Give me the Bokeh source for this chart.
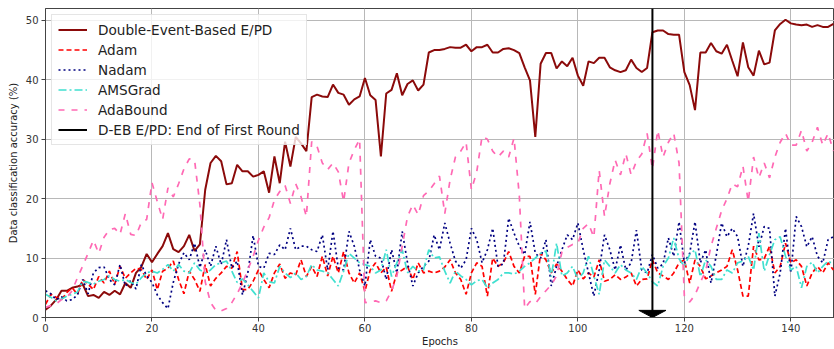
from bokeh.plotting import figure
from bokeh.models import Range1d, Legend, LegendItem
from bokeh.embed import file_html
from bokeh.resources import INLINE

# ---------------- data ----------------
epochs = list(range(149))

deb_epd = [
    1.3, 2.0, 3.0, 4.5, 4.5, 5.0, 5.2, 5.6, 3.6, 3.8,
    3.3, 4.3, 3.8, 4.5, 3.9, 5.8, 5.0, 7.5, 8.5, 10.7,
    9.3, 10.7, 12.0, 14.2, 11.5, 11.0, 12.0, 13.9, 11.2, 12.3,
    21.5, 26.0, 27.2, 26.3, 22.4, 22.6, 25.7, 24.6, 24.6, 23.7,
    24.0, 24.6, 21.0, 27.1, 22.6, 29.6, 25.4, 30.4, 29.3, 28.0,
    37.1, 37.5, 37.2, 37.1, 39.2, 37.8, 37.5, 35.8, 36.7, 37.2,
    40.3, 37.4, 36.6, 27.1, 37.7, 38.3, 41.1, 37.4, 39.3, 39.9,
    38.2, 39.2, 44.6, 45.0, 45.0, 45.2, 45.5, 45.4, 45.4, 45.9,
    44.8, 45.5, 45.5, 45.9, 44.6, 44.6, 45.2, 45.3, 45.0, 44.5,
    42.1, 39.9, 30.4, 42.7, 44.5, 44.5, 41.9, 43.1, 42.3, 43.7,
    40.7, 39.0, 43.1, 42.8, 43.7, 43.7, 42.1, 41.6, 41.3, 41.6,
    43.4, 42.0, 41.3, 42.0, 48.0, 48.3, 48.3, 47.7, 47.6, 47.6,
    41.3, 39.1, 34.9, 44.6, 44.6, 46.2, 44.8, 44.4, 45.9, 43.2,
    40.6, 46.3, 42.1, 40.7, 44.9, 42.6, 42.9, 48.3, 49.4, 50.1,
    49.5, 49.3, 49.2, 49.3, 48.9, 49.2, 48.9, 48.9, 49.4,
]

adam = [
    2.2, 3.9, 3.4, 3.0, 4.2, 5.0, 3.9, 6.4, 5.6, 4.7,
    6.9, 5.8, 7.8, 5.6, 8.6, 6.6, 7.5, 8.3, 8.1, 6.4,
    8.0, 4.7, 7.8, 8.3, 9.5, 6.4, 4.0, 7.8, 6.4, 4.4,
    8.9, 5.3, 6.6, 7.5, 8.6, 8.3, 11.1, 4.7, 4.7, 6.1,
    8.0, 6.4, 5.0, 7.5, 9.0, 6.6, 7.5, 7.2, 9.7, 6.9,
    8.6, 6.9, 10.3, 7.0, 10.3, 7.5, 11.1, 7.5, 5.8, 7.5,
    4.4, 8.0, 9.2, 7.5, 8.5, 4.4, 7.5, 8.0, 8.6, 6.4,
    9.2, 7.5, 7.8, 7.5, 7.8, 8.5, 9.7, 7.5, 6.4, 3.9,
    7.5, 9.2, 8.6, 3.6, 10.0, 8.6, 9.2, 11.1, 8.6, 7.5,
    10.3, 10.3, 3.9, 10.8, 9.7, 7.5, 9.0, 7.8, 6.4, 5.3,
    8.0, 6.5, 7.5, 6.8, 9.7, 6.1, 6.4, 7.2, 6.4, 6.8,
    7.5, 5.3, 6.4, 6.5, 9.7, 7.5, 7.0, 6.4, 7.5, 9.2,
    9.7, 5.8, 9.7, 8.6, 6.5, 7.0, 7.5, 8.0, 8.6, 11.4,
    8.0, 3.6, 3.6, 12.0, 9.7, 9.9, 12.0, 7.5, 8.6, 12.5,
    9.2, 9.7, 8.6, 5.3, 7.5, 8.6, 7.5, 9.2, 8.0,
]

nadam = [
    4.5, 4.0, 3.0, 3.5, 2.8, 3.0, 3.8, 6.4, 4.0, 7.5,
    8.4, 8.5, 6.4, 5.5, 8.9, 5.3, 6.2, 4.8, 8.9, 7.0,
    5.9, 3.8, 2.5, 1.5, 5.9, 9.0, 10.9, 9.7, 12.5, 8.4,
    11.4, 8.6, 12.0, 8.9, 13.1, 8.3, 9.5, 3.8, 7.5, 13.8,
    8.6, 8.3, 10.8, 10.6, 12.2, 11.4, 15.0, 11.4, 12.0, 12.0,
    11.4, 11.1, 13.9, 8.0, 14.5, 8.3, 8.0, 14.5, 12.0, 8.0,
    5.3, 13.1, 10.3, 10.0, 6.4, 11.4, 7.5, 14.5, 9.2, 5.3,
    7.5, 8.6, 9.5, 13.9, 11.4, 15.9, 12.5, 9.5, 8.3, 9.7,
    15.0, 13.1, 9.2, 11.4, 15.0, 8.6, 9.0, 16.7, 14.2, 12.0,
    10.6, 16.1, 10.8, 10.0, 13.1, 5.3, 8.6, 11.4, 13.9, 13.1,
    15.9, 11.4, 7.5, 3.6, 8.0, 13.9, 11.4, 8.0, 12.2, 8.0,
    9.2, 14.7, 8.0, 7.5, 10.6, 8.3, 9.0, 13.4, 10.3, 16.1,
    9.2, 10.8, 16.1, 9.2, 11.4, 5.8, 10.5, 15.9, 13.6, 15.0,
    13.6, 8.6, 12.0, 17.5, 11.9, 15.3, 15.0, 3.6, 7.5, 15.0,
    7.5, 17.0, 15.3, 11.9, 13.6, 10.3, 9.2, 13.1, 13.6,
]

amsgrad = [
    3.9, 3.4, 2.8, 3.1, 3.6, 3.9, 4.3, 6.1, 5.9, 5.6,
    6.1, 6.4, 7.0, 6.4, 6.1, 6.4, 5.9, 5.6, 6.7, 7.5,
    7.8, 7.5, 8.1, 8.9, 7.8, 8.9, 7.8, 7.5, 9.2, 8.0,
    7.5, 8.0, 8.9, 9.2, 9.5, 7.8, 5.9, 6.5, 5.5, 4.4,
    3.3, 7.5, 6.0, 5.8, 8.6, 7.5, 6.7, 7.5, 6.4, 6.9,
    8.9, 8.0, 7.8, 7.5, 6.4, 5.3, 7.8, 10.8, 10.0, 9.2,
    8.9, 8.6, 7.5, 8.0, 11.4, 6.9, 9.2, 11.4, 7.5, 8.6,
    7.8, 8.0, 11.4, 10.0, 10.2, 7.8, 5.8, 7.8, 7.0, 6.4,
    5.5, 6.2, 6.4, 5.0, 5.8, 6.4, 7.5, 7.5, 7.3, 7.8,
    8.6, 9.2, 10.0, 10.8, 11.2, 6.9, 12.5, 7.0, 7.5, 8.6,
    6.4, 7.5, 10.3, 7.0, 3.9, 9.7, 8.6, 7.5, 8.9, 8.0,
    7.5, 6.4, 8.6, 7.5, 6.0, 5.3, 8.6, 10.0, 13.4, 9.9,
    8.6, 10.6, 11.4, 6.9, 9.7, 8.6, 6.4, 6.4, 8.0, 7.5,
    9.2, 9.5, 10.3, 8.0, 14.2, 7.8, 10.6, 13.1, 13.6, 10.3,
    8.0, 8.6, 5.0, 8.6, 9.3, 7.5, 8.6, 9.5, 9.0,
]

adabound = [
    1.7, 2.0, 2.3, 3.0, 3.4, 4.5, 6.7, 8.7, 10.8, 13.0,
    10.8, 13.5, 14.8, 15.0, 14.0, 17.5, 14.0, 13.8, 16.0, 16.5,
    22.7, 19.5, 16.5, 21.8, 20.3, 22.5, 25.0, 26.7, 26.5, 19.0,
    6.0, 2.5, 1.2, 1.1, 1.5, 2.5, 4.0, 5.8, 8.0, 10.3,
    13.0, 15.2, 16.8, 19.8, 21.2, 22.2, 19.2, 22.5, 20.3, 17.0,
    29.6, 28.8, 26.0, 24.9, 26.0, 24.5, 19.5, 26.0, 28.2, 30.0,
    2.5, 2.6, 2.8, 2.5, 2.8, 4.5, 7.0, 12.0, 17.0, 19.0,
    17.3, 20.5, 21.3, 22.5, 23.8, 17.5, 23.2, 27.0, 28.0, 29.5,
    21.5, 24.5, 30.5, 30.0, 28.0, 27.0, 28.0, 27.0, 30.2, 20.5,
    1.5, 2.7, 2.3, 3.5, 4.5, 5.5, 7.0, 11.0, 11.8, 12.3,
    12.5, 15.0, 15.8, 13.5, 24.8, 17.0, 22.5, 26.5, 24.0, 27.6,
    24.0, 26.3, 27.5, 31.0, 25.0, 31.5, 27.0, 29.5, 31.0, 26.0,
    3.5, 2.6, 3.8, 5.9, 7.8, 12.0, 15.0, 18.0, 20.0, 22.5,
    22.0, 25.5, 19.5, 27.0, 23.5, 26.0, 23.5, 27.0, 29.5, 31.0,
    29.0, 29.0, 31.5, 28.0, 29.5, 32.0, 29.0, 31.0, 28.0,
]

first_round_end = 114
x_ticks = [0, 20, 40, 60, 80, 100, 120, 140]
y_ticks = [0, 10, 20, 30, 40, 50]
x_limits = (0, 148.2)
y_limits = (0, 52)

labels = ["Double-Event-Based E/PD", "Adam", "Nadam", "AMSGrad", "AdaBound",
          "D-EB E/PD: End of First Round"]

# ---------------- figure ----------------
FONT = "DejaVu Sans"
p = figure(width=834, height=349, output_backend="svg", toolbar_location=None,
           x_range=Range1d(*x_limits), y_range=Range1d(*y_limits),
           min_border_left=45, min_border_right=0, min_border_top=8, min_border_bottom=31)

p.background_fill_color = "white"
p.outline_line_color = "#444444"
p.outline_line_width = 1

r_deb = p.line(epochs, deb_epd, line_color="#8b0a0a", line_width=2)
r_adam = p.line(epochs, adam, line_color="#ff0000", line_width=1.7, line_dash="5 3")
r_nadam = p.line(epochs, nadam, line_color="#000080", line_width=1.7, line_dash="2 3")
r_ams = p.line(epochs, amsgrad, line_color="#40e0d0", line_width=1.7, line_dash="8 3 2 3")
r_ada = p.line(epochs, adabound, line_color="#ff69b4", line_width=1.7, line_dash="6 7")
r_end = p.line([first_round_end, first_round_end], [y_limits[0], y_limits[1]],
               line_color="black", line_width=2)

# arrow head at the bottom of the vertical marker
head_half_w = 2.55
head_h = 1.2
p.patch([first_round_end - head_half_w, first_round_end + head_half_w, first_round_end],
        [y_limits[0] + head_h, y_limits[0] + head_h, y_limits[0]],
        fill_color="black", line_color="black")

legend = Legend(items=[
    LegendItem(label=labels[0], renderers=[r_deb]),
    LegendItem(label=labels[1], renderers=[r_adam]),
    LegendItem(label=labels[2], renderers=[r_nadam]),
    LegendItem(label=labels[3], renderers=[r_ams]),
    LegendItem(label=labels[4], renderers=[r_ada]),
    LegendItem(label=labels[5], renderers=[r_end]),
], location="top_left")
legend.label_text_font = FONT
legend.label_text_font_size = "13.6px"
legend.label_text_color = "#222222"
legend.glyph_width = 29
legend.glyph_height = 17
legend.label_height = 17
legend.spacing = 3
legend.padding = 6
legend.margin = 6
legend.label_standoff = 11
legend.border_line_color = "#cccccc"
legend.background_fill_alpha = 0.8
p.add_layout(legend)

# axes
p.xaxis.ticker = x_ticks
p.yaxis.ticker = y_ticks
for ax in (p.xaxis, p.yaxis):
    ax.major_label_text_font = FONT
    ax.major_label_text_font_size = "10px"
    ax.major_label_text_color = "#333333"
    ax.axis_label_text_font = FONT
    ax.axis_label_text_font_size = "10px"
    ax.axis_label_text_font_style = "normal"
    ax.axis_label_text_color = "#222222"
    ax.minor_tick_line_color = None
    ax.major_tick_in = 0
    ax.major_tick_out = 4
    ax.major_tick_line_color = "#444444"
    ax.axis_line_color = "#444444"
p.xaxis.axis_label = "Epochs"
p.yaxis.axis_label = "Data classification accuracy (%)"
p.xaxis.major_label_standoff = 2
p.xaxis.axis_label_standoff = 1
p.yaxis.major_label_standoff = 3
p.yaxis.axis_label_standoff = 4

p.grid.grid_line_color = "#b8b8b8"
p.grid.grid_line_width = 1

open("out.html", "w").write(file_html(p, INLINE))
